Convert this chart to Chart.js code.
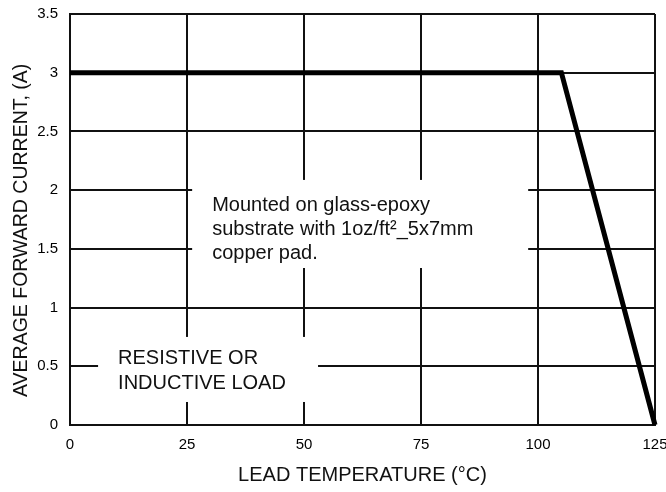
<!DOCTYPE html>
<html>
<head>
<meta charset="utf-8">
<script src="https://cdn.jsdelivr.net/npm/chart.js@4.4.1/dist/chart.umd.min.js"></script>
<style>
  html, body { margin: 0; padding: 0; background: #fff; }
  #wrap { width: 666px; height: 492px; }
</style>
</head>
<body>
<div id="wrap"><canvas id="chart"></canvas></div>
<script>
// derating curve: lead temperature (°C) vs average forward current (A)
const tempC = [0, 105, 125];
const currentA = [3, 3, 0];
const xTicks = [0, 25, 50, 75, 100, 125];
const yTicks = [0, 0.5, 1, 1.5, 2, 2.5, 3, 3.5];
const noteMounted = ['Mounted on glass-epoxy', 'substrate with 1oz/ft\u00b2_5x7mm', 'copper pad.'];
const noteLoad = ['RESISTIVE OR', 'INDUCTIVE LOAD'];

const FONT = '"Liberation Sans", Arial, sans-serif';

// white label boxes sitting over the grid (corners in data units)
const boxes = [
  { x0: 26.1, x1: 97.9, y0: 2.087, y1: 1.337, lines: noteMounted, dy: 26, lh: 24 },
  { x0: 6, x1: 53, y0: 0.75, y1: 0.196, lines: noteLoad, dy: 22, lh: 25 }
];

const notesPlugin = {
  id: 'notes',
  beforeDatasetsDraw(chart) {
    const { ctx, scales: { x, y } } = chart;
    ctx.save();
    boxes.forEach(b => {
      const l = x.getPixelForValue(b.x0), r = x.getPixelForValue(b.x1);
      const t = y.getPixelForValue(b.y0), btm = y.getPixelForValue(b.y1);
      ctx.fillStyle = '#fff';
      ctx.fillRect(l, t, r - l, btm - t);
      ctx.fillStyle = '#111';
      ctx.font = '20px ' + FONT;
      ctx.textBaseline = 'middle';
      ctx.textAlign = 'left';
      b.lines.forEach((s, i) => ctx.fillText(s, l + 20, t + b.dy + i * b.lh));
    });
    ctx.restore();
  }
};

new Chart(document.getElementById('chart'), {
  type: 'line',
  data: {
    datasets: [{
      data: tempC.map((t, i) => ({ x: t, y: currentA[i] })),
      borderColor: '#000',
      borderWidth: 5,
      pointRadius: 0,
      tension: 0,
      fill: false,
      clip: false
    }]
  },
  options: {
    responsive: true,
    maintainAspectRatio: false,
    animation: false,
    layout: { padding: { top: 14, right: 11, left: 0, bottom: 0 } },
    plugins: { legend: { display: false }, tooltip: { enabled: false } },
    scales: {
      x: {
        type: 'linear',
        min: 0, max: 125,
        afterBuildTicks: s => { s.ticks = xTicks.map(v => ({ value: v })); },
        afterFit: s => { s.height = 67; s.paddingLeft = 0; s.paddingRight = 0; },
        grid: { color: '#111', lineWidth: 2, drawTicks: false },
        border: { color: '#111', width: 2 },
        ticks: { color: '#000', padding: 11, font: { family: FONT, size: 15 }, maxRotation: 0,
                 callback: v => String(v) },
        title: { display: true, text: 'LEAD TEMPERATURE (\u00b0C)', color: '#111',
                 font: { family: FONT, size: 20 }, padding: { top: 0, bottom: 5 } }
      },
      y: {
        type: 'linear',
        min: 0, max: 3.5,
        afterBuildTicks: s => { s.ticks = yTicks.map(v => ({ value: v })); },
        afterFit: s => { s.width = 70; s.paddingTop = 0; s.paddingBottom = 0; },
        grid: { color: '#111', lineWidth: 2, drawTicks: false },
        border: { color: '#111', width: 2 },
        ticks: { color: '#000', padding: 12, font: { family: FONT, size: 15 },
                 callback: v => String(v) },
        title: { display: true, text: 'AVERAGE FORWARD CURRENT, (A)\u00a0\u00a0\u00a0\u00a0', color: '#111',
                 font: { family: FONT, size: 19.5 }, padding: { top: 10, bottom: 0 } }
      }
    }
  },
  plugins: [notesPlugin]
});
</script>
</body>
</html>
